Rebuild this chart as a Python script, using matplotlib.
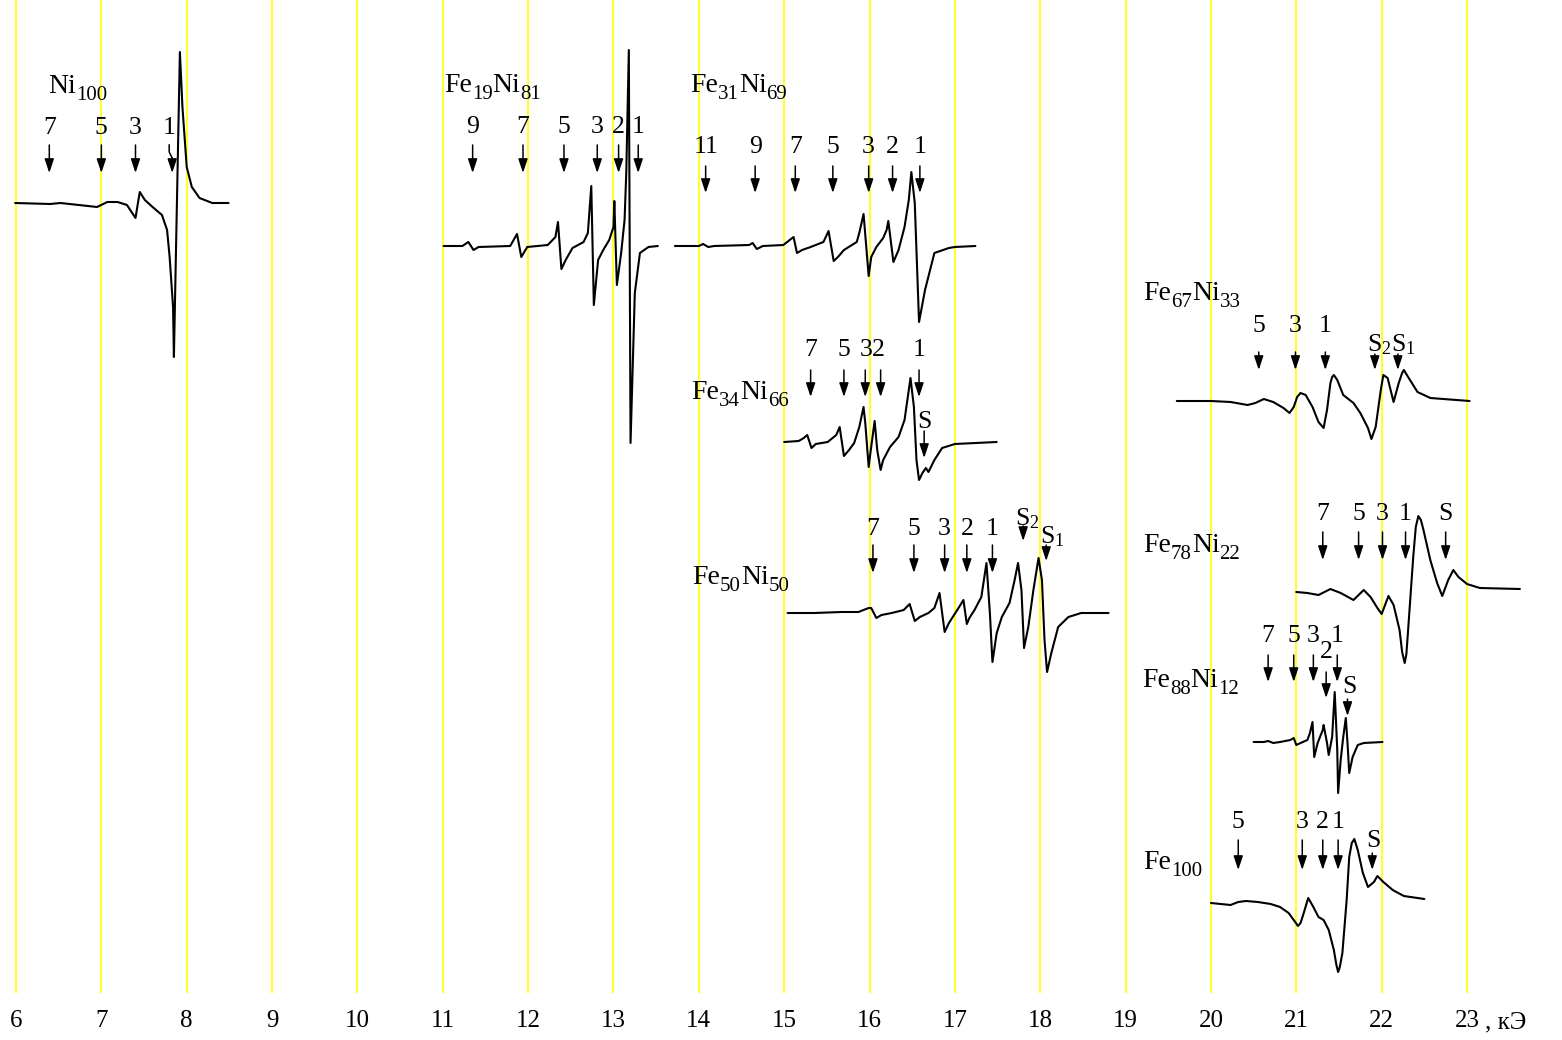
import matplotlib
matplotlib.use('Agg')
import matplotlib.pyplot as plt

plt.rcParams['font.family'] = ['Liberation Serif', 'DejaVu Serif']
plt.rcParams['mathtext.fontset'] = 'custom'
plt.rcParams['mathtext.rm'] = 'Liberation Serif'
plt.rcParams['mathtext.it'] = 'Liberation Serif:italic'
plt.rcParams['mathtext.bf'] = 'Liberation Serif:bold'

# ====================== data ======================
field_ticks = list(range(6, 24))          # kOe
field_unit = ', кЭ'

# field H (kOe) and derivative absorption signal S (arb. units)
ni100_H = [5.99, 6.40, 6.52, 6.95, 7.07, 7.19, 7.30, 7.40, 7.45, 7.51, 7.60, 7.71, 7.77,
           7.80, 7.84, 7.85, 7.92, 7.95, 8.00, 8.06, 8.15, 8.30, 8.49]
ni100_S = [0, -1, 0, -4, 1, 1, -2, -15, 11, 3, -4, -12, -27,
           -54, -104, -154, 151, 96, 36, 16, 5, 0, 0]
ni100_modes = ['7', '5', '3', '1']
ni100_mode_H = [6.39, 7.00, 7.40, 7.83]

fe19_H = [11.01, 11.23, 11.30, 11.36, 11.42, 11.79, 11.87, 11.92, 11.99, 12.23, 12.32, 12.35,
          12.39, 12.44, 12.52, 12.65, 12.70, 12.74, 12.77, 12.82, 12.88, 12.95, 13.00, 13.01,
          13.04, 13.09, 13.13, 13.15, 13.18, 13.20, 13.25, 13.31, 13.41, 13.52]
fe19_S = [0, 0, 4, -4, -1, 0, 12, -11, -1, 1, 9, 24,
          -23, -14, -2, 4, 13, 60, -59, -14, -4, 6, 19, 45,
          -39, -7, 26, 73, 196, -197, -47, -7, -1, 0]
fe19_modes = ['9', '7', '5', '3', '2', '1']
fe19_mode_H = [11.35, 11.94, 12.42, 12.81, 13.06, 13.29]

fe31_H = [13.72, 14.00, 14.05, 14.11, 14.18, 14.59, 14.63, 14.68, 14.75, 14.99, 15.11, 15.15,
          15.21, 15.31, 15.46, 15.52, 15.58, 15.63, 15.70, 15.85, 15.88, 15.93, 15.99, 16.02,
          16.08, 16.16, 16.20, 16.22, 16.28, 16.34, 16.41, 16.46, 16.49, 16.53, 16.58, 16.65,
          16.76, 16.93, 17.00, 17.24]
fe31_S = [0, 0, 2, -1, 0, 1, 3, -3, 0, 1, 9, -7,
          -4, -1, 4, 15, -15, -11, -4, 4, 13, 32, -30, -11,
          -1, 8, 16, 25, -16, -4, 19, 46, 74, 43, -76, -44,
          -7, -2, -1, 0]
fe31_modes = ['11', '9', '7', '5', '3', '2', '1']
fe31_mode_H = [14.08, 14.66, 15.13, 15.57, 15.99, 16.27, 16.59]

fe34_H = [15.00, 15.17, 15.23, 15.27, 15.32, 15.37, 15.51, 15.61, 15.65, 15.70, 15.76, 15.82,
          15.88, 15.93, 15.95, 15.99, 16.01, 16.06, 16.09, 16.13, 16.16, 16.24, 16.34, 16.41,
          16.48, 16.52, 16.55, 16.58, 16.62, 16.66, 16.69, 16.76, 16.85, 17.00, 17.49]
fe34_S = [0, 1, 4, 7, -6, -2, 0, 7, 15, -14, -8, -1,
          15, 35, 19, -25, -11, 21, -8, -28, -18, -5, 5, 22,
          64, 35, -18, -38, -31, -26, -30, -18, -6, -2, 0]
fe34_modes = ['7', '5', '3', '2', '1', 'S']
fe34_mode_H = [15.31, 15.70, 15.95, 16.13, 16.58, 16.64]

fe50_H = [15.04, 15.35, 15.67, 15.87, 15.99, 16.02, 16.08, 16.14, 16.26, 16.40, 16.47, 16.53,
          16.59, 16.69, 16.76, 16.82, 16.88, 16.93, 16.99, 17.05, 17.10, 17.14, 17.17, 17.23,
          17.31, 17.37, 17.41, 17.44, 17.49, 17.55, 17.64, 17.70, 17.74, 17.78, 17.81, 17.86,
          17.92, 17.98, 18.02, 18.05, 18.08, 18.13, 18.21, 18.33, 18.48, 18.80]
fe50_S = [0, 0, 1, 1, 5, 5, -5, -2, 0, 3, 9, -8,
          -4, 0, 5, 20, -19, -10, -2, 6, 13, -11, -5, 3,
          16, 50, 0, -49, -20, -4, 10, 33, 50, 23, -35, -14,
          23, 55, 33, -27, -59, -40, -14, -4, 0, 0]
fe50_modes = ['7', '5', '3', '2', '1', 'S$_2$', 'S$_1$']
fe50_mode_H = [16.04, 16.52, 16.88, 17.14, 17.44, 17.80, 18.07]

fe67_H = [19.60, 20.00, 20.23, 20.43, 20.52, 20.62, 20.73, 20.85, 20.92, 20.97, 21.01, 21.05,
          21.11, 21.19, 21.26, 21.32, 21.36, 21.40, 21.42, 21.44, 21.48, 21.55, 21.67, 21.75,
          21.84, 21.88, 21.93, 21.99, 22.02, 22.07, 22.14, 22.20, 22.24, 22.26, 22.31, 22.42,
          22.57, 23.03]
fe67_S = [0, 0, -1, -4, -2, 2, -1, -7, -12, -6, 4, 8,
          6, -6, -21, -27, -9, 18, 24, 26, 21, 6, -2, -12,
          -27, -38, -26, 11, 26, 23, -1, 18, 28, 31, 24, 9,
          3, 0]
fe67_modes = ['5', '3', '1', 'S$_2$', 'S$_1$']
fe67_mode_H = [20.56, 20.99, 21.34, 21.92, 22.19]

fe78_H = [21.00, 21.13, 21.26, 21.40, 21.52, 21.67, 21.79, 21.87, 21.95, 22.00, 22.08, 22.14,
          22.21, 22.24, 22.27, 22.29, 22.31, 22.37, 22.40, 22.43, 22.46, 22.49, 22.57, 22.65,
          22.71, 22.78, 22.84, 22.90, 23.00, 23.15, 23.62]
fe78_S = [-2, -3, -5, 1, -3, -10, 0, -7, -18, -24, -6, -15,
          -40, -62, -73, -64, -40, 33, 63, 74, 70, 60, 30, 7,
          -6, 10, 20, 13, 6, 2, 1]
fe78_modes = ['7', '5', '3', '1', 'S']
fe78_mode_H = [21.31, 21.73, 22.01, 22.28, 22.75]

fe88_H = [20.50, 20.62, 20.67, 20.73, 20.81, 20.93, 20.97, 21.00, 21.05, 21.13, 21.16, 21.19,
          21.21, 21.25, 21.31, 21.32, 21.36, 21.38, 21.42, 21.45, 21.48, 21.49, 21.52, 21.55,
          21.58, 21.60, 21.62, 21.66, 21.72, 21.79, 22.01]
fe88_S = [0, 0, 1, -1, 0, 2, 4, -3, -1, 2, 9, 20,
          -15, -1, 12, 17, -1, -13, 5, 50, -8, -51, -18, 5,
          24, -1, -31, -15, -3, -1, 0]
fe88_modes = ['7', '5', '3', '2', '1', 'S']
fe88_mode_H = [20.67, 20.97, 21.20, 21.35, 21.48, 21.60]

fe100_H = [20.00, 20.23, 20.32, 20.41, 20.55, 20.70, 20.81, 20.91, 20.97, 21.02, 21.05, 21.08,
           21.14, 21.20, 21.26, 21.32, 21.38, 21.44, 21.47, 21.49, 21.51, 21.54, 21.59, 21.62,
           21.65, 21.68, 21.72, 21.78, 21.84, 21.91, 21.95, 22.02, 22.13, 22.26, 22.50]
fe100_S = [0, -2, 1, 2, 1, -1, -4, -10, -17, -23, -20, -12,
           5, -4, -14, -17, -27, -47, -62, -69, -64, -50, 3, 46,
           60, 64, 53, 30, 16, 21, 27, 21, 13, 7, 4]
fe100_modes = ['5', '3', '2', '1', 'S']
fe100_mode_H = [20.32, 21.07, 21.31, 21.49, 21.89]

# sample compositions (element, at.%)
ni100_comp = [('Ni', 100)]
fe19_comp = [('Fe', 19), ('Ni', 81)]
fe31_comp = [('Fe', 31), ('Ni', 69)]
fe34_comp = [('Fe', 34), ('Ni', 66)]
fe50_comp = [('Fe', 50), ('Ni', 50)]
fe67_comp = [('Fe', 67), ('Ni', 33)]
fe78_comp = [('Fe', 78), ('Ni', 22)]
fe88_comp = [('Fe', 88), ('Ni', 12)]
fe100_comp = [('Fe', 100)]

spectra = [
    (ni100_comp, ni100_H, ni100_S, ni100_modes, ni100_mode_H),
    (fe19_comp, fe19_H, fe19_S, fe19_modes, fe19_mode_H),
    (fe31_comp, fe31_H, fe31_S, fe31_modes, fe31_mode_H),
    (fe34_comp, fe34_H, fe34_S, fe34_modes, fe34_mode_H),
    (fe50_comp, fe50_H, fe50_S, fe50_modes, fe50_mode_H),
    (fe67_comp, fe67_H, fe67_S, fe67_modes, fe67_mode_H),
    (fe78_comp, fe78_H, fe78_S, fe78_modes, fe78_mode_H),
    (fe88_comp, fe88_H, fe88_S, fe88_modes, fe88_mode_H),
    (fe100_comp, fe100_H, fe100_S, fe100_modes, fe100_mode_H),
]

# ====================== layout (pixel rows from the top) ======================
layout = [
    dict(base=203, name=(48, 93), num_y=134, arr=(145, 173),
         over={'1': dict(dx=-3, bend=True)}),
    dict(base=246, name=(444, 92), num_y=133, arr=(145, 173), over={}),
    dict(base=246, name=(690, 92), num_y=153, arr=(166, 193), over={}),
    dict(base=442, name=(691, 399), num_y=356, arr=(370, 397),
         over={'3': dict(dx=1), '2': dict(dx=-2),
               'S': dict(num_y=428, arr=(431, 458))}),
    dict(base=613, name=(692, 584), num_y=535, arr=(545, 573),
         over={'S$_2$': dict(num_y=525, arr=(526, 541), dx=4),
               'S$_1$': dict(num_y=543, arr=(545, 561), dx=6)}),
    dict(base=401, name=(1143, 300), num_y=332, arr=(352, 370),
         over={'S$_2$': dict(num_y=351, arr=(354, 370), dx=4),
               'S$_1$': dict(num_y=351, arr=(354, 370), dx=5)}),
    dict(base=590, name=(1143, 552), num_y=520, arr=(532, 560), over={}),
    dict(base=742, name=(1142, 687), num_y=642, arr=(655, 682),
         over={'2': dict(num_y=658, arr=(672, 698)),
               'S': dict(num_y=693, arr=(699, 716), dx=2)}),
    dict(base=903, name=(1143, 869), num_y=828, arr=(840, 870),
         over={'S': dict(num_y=847, arr=(853, 870), dx=1)}),
]

W, Hpx = 1562, 1040
PLOT_BOTTOM = 993
PPK = 85.353                      # pixels per kOe
XMIN = 6 - 16 / PPK
XMAX = XMIN + W / PPK
NAME_FS, SUB_FS, SUB_DROP = 20, 15, 7


def kx(p):
    """pixel column -> field coordinate (layout helper)"""
    return XMIN + p / PPK


fig = plt.figure(figsize=(W / 100, Hpx / 100), dpi=100)
ax = fig.add_axes([0, (Hpx - PLOT_BOTTOM) / Hpx, 1, PLOT_BOTTOM / Hpx])
ax.set_xlim(XMIN, XMAX)
ax.set_ylim(PLOT_BOTTOM, 0)
for sp in ax.spines.values():
    sp.set_visible(False)
ax.set_yticks([])
ax.set_xticks(field_ticks)
ax.set_xticklabels([str(t) for t in field_ticks])
ax.tick_params(axis='x', length=0, pad=12, labelsize=18)
for t in field_ticks:
    ax.axvline(t, color='#ffff00', lw=1.2, zorder=0)

ax.text(kx(1485), 1028, field_unit, ha='left', va='baseline', fontsize=18,
        clip_on=False)

renderer = fig.canvas.get_renderer()
inv = ax.transData.inverted()


def right_edge(t):
    bb = t.get_window_extent(renderer)
    return inv.transform((bb.x1, bb.y0))[0]


def chem_label(x, y, comp):
    for el, n in comp:
        t = ax.text(x, y, el, ha='left', va='baseline', fontsize=NAME_FS)
        x = right_edge(t)
        t = ax.text(x, y + SUB_DROP, str(n), ha='left', va='baseline', fontsize=SUB_FS)
        x = right_edge(t)


ARROW = dict(arrowstyle='-|>,head_length=0.6,head_width=0.2', color='k',
             lw=1.1, shrinkA=0, shrinkB=0, mutation_scale=14)


def arrow(x, y0, y1):
    ax.annotate('', xy=(x, y1), xytext=(x, y0), arrowprops=ARROW)


for (comp, Hf, S, modes, mode_H), lay in zip(spectra, layout):
    base = lay['base']
    ax.plot(Hf, [base - s for s in S], color='k', lw=1.5,
            solid_joinstyle='round', solid_capstyle='round', zorder=3)
    chem_label(kx(lay['name'][0]), lay['name'][1], comp)
    for lab, hm in zip(modes, mode_H):
        o = lay['over'].get(lab, {})
        ny = o.get('num_y', lay['num_y'])
        a0, a1 = o.get('arr', lay['arr'])
        dx = o.get('dx', 0) / PPK
        ax.text(hm + dx, ny, lab, ha='center', va='baseline', fontsize=18.5)
        if o.get('bend'):
            ax.plot([hm + dx, hm + dx, hm], [a0, a0 + 7, a0 + 13], color='k', lw=1.1)
            arrow(hm, a0 + 13, a1)
        else:
            arrow(hm, a0, a1)

fig.savefig('out.png', dpi=100)
